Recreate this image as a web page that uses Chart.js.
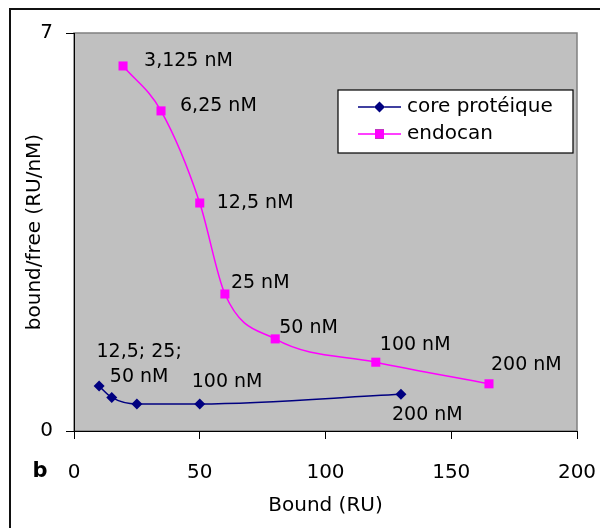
<!DOCTYPE html>
<html><head><meta charset="utf-8">
<script src="https://cdn.jsdelivr.net/npm/chart.js@4"></script>
<style>html,body{margin:0;padding:0;background:#fff;}canvas{display:block;}</style>
</head><body>
<canvas id="c" width="600" height="528"></canvas>
<script>
// ---- data ----
const coreX = [10, 15, 25, 50, 130];
const coreY = [0.79, 0.59, 0.475, 0.475, 0.645];
const coreLabels = ['12,5; 25;\n50 nM', '', '', '100 nM', '200 nM'];
const endoX = [19.5, 34.6, 50, 60, 80, 120, 165];
const endoY = [6.42, 5.63, 4.01, 2.41, 1.62, 1.21, 0.83];
const endoLabels = ['3,125 nM', '6,25 nM', '12,5 nM', '25 nM', '50 nM', '100 nM', '200 nM'];
const seriesNames = ['core protéique', 'endocan'];
const xTicks = [0, 50, 100, 150, 200];
const yTicks = [0, 7];
const xTitle = 'Bound (RU)';
const yTitle = 'bound/free (RU/nM)';
const panelLetter = 'b';

// ---- label placement (styling only) ----
const coreLabelStyle = [
  {dx: 40, dy: [-34, -9], align: 'center'}, null, null,
  {dx: -8, dy: [-22], align: 'left'},
  {dx: -9, dy: [21], align: 'left'}
];
const endoLabelStyle = [
  {dx: 21, dy: [-5]}, {dx: 19, dy: [-5]}, {dx: 17, dy: [0]}, {dx: 6, dy: [-11]},
  {dx: 4, dy: [-11]}, {dx: 4, dy: [-17]}, {dx: 2, dy: [-19]}
];

const FONT = 'DejaVu Sans';
Chart.defaults.font.family = FONT;
Chart.defaults.color = '#000';

const CORE_COLOR = '#000080';
const ENDO_COLOR = '#ff00ff';

const deco = {
  id: 'deco',
  beforeDraw(chart) {
    const {ctx, chartArea: a} = chart;
    ctx.save();
    ctx.fillStyle = '#fff';
    ctx.fillRect(0, 0, chart.width, chart.height);
    // outer frame (top & left)
    ctx.strokeStyle = '#111';
    ctx.lineWidth = 2;
    ctx.beginPath();
    ctx.moveTo(600, 9); ctx.lineTo(10, 9); ctx.lineTo(10, 528);
    ctx.stroke();
    // plot area
    ctx.fillStyle = '#c0c0c0';
    ctx.fillRect(a.left, a.top, a.right - a.left, a.bottom - a.top);
    ctx.strokeStyle = '#808080';
    ctx.lineWidth = 1.5;
    ctx.strokeRect(a.left, a.top, a.right - a.left, a.bottom - a.top);
    ctx.restore();
  },
  afterDraw(chart) {
    const {ctx} = chart;
    ctx.save();
    // data labels
    ctx.font = '19px "' + FONT + '"';
    ctx.fillStyle = '#000';
    ctx.textBaseline = 'middle';
    const drawLabels = (dsIndex, labels, styles) => {
      const meta = chart.getDatasetMeta(dsIndex);
      labels.forEach((t, i) => {
        if (!t || !styles[i]) return;
        const p = meta.data[i];
        const st = styles[i];
        ctx.textAlign = st.align || 'left';
        t.split('\n').forEach((line, k) => {
          ctx.fillText(line, p.x + st.dx, p.y + st.dy[k]);
        });
      });
    };
    drawLabels(0, coreLabels, coreLabelStyle);
    drawLabels(1, endoLabels, endoLabelStyle);

    // legend
    const lx = 338, ly = 90, lw = 235, lh = 63;
    ctx.fillStyle = '#fff';
    ctx.fillRect(lx, ly, lw, lh);
    ctx.strokeStyle = '#000';
    ctx.lineWidth = 1.2;
    ctx.strokeRect(lx, ly, lw, lh);
    const ds = chart.data.datasets;
    const rows = [107, 134];
    ds.forEach((d, i) => {
      const y = rows[i];
      ctx.strokeStyle = d.borderColor;
      ctx.lineWidth = 1.5;
      ctx.beginPath(); ctx.moveTo(358, y); ctx.lineTo(401, y); ctx.stroke();
      Chart.helpers.drawPoint(ctx, {pointStyle: d.pointStyle, radius: d.pointRadius, borderWidth: 0}, 379.5, y);
      ctx.fillStyle = d.pointBackgroundColor;
      ctx.fill();
      ctx.fillStyle = '#000';
      ctx.font = '20px "' + FONT + '"';
      ctx.textAlign = 'left';
      ctx.textBaseline = 'middle';
      ctx.fillText(d.label, 407, y);
    });

    // panel letter
    ctx.font = 'bold 21px "' + FONT + '"';
    ctx.textAlign = 'center';
    ctx.textBaseline = 'middle';
    ctx.fillStyle = '#000';
    ctx.fillText(panelLetter, 40, 472);
    ctx.restore();
  }
};

new Chart(document.getElementById('c'), {
  type: 'scatter',
  data: {
    datasets: [
      {
        label: seriesNames[0],
        data: coreX.map((x, i) => ({x, y: coreY[i]})),
        showLine: true,
        borderColor: CORE_COLOR,
        backgroundColor: CORE_COLOR,
        pointBackgroundColor: CORE_COLOR,
        pointBorderColor: CORE_COLOR,
        pointStyle: 'rectRot',
        pointRadius: 5.5,
        pointBorderWidth: 0,
        borderWidth: 1.5,
        cubicInterpolationMode: 'monotone'
      },
      {
        label: seriesNames[1],
        data: endoX.map((x, i) => ({x, y: endoY[i]})),
        showLine: true,
        borderColor: ENDO_COLOR,
        backgroundColor: ENDO_COLOR,
        pointBackgroundColor: ENDO_COLOR,
        pointBorderColor: ENDO_COLOR,
        pointStyle: 'rect',
        pointRadius: 6.4,
        pointBorderWidth: 0,
        borderWidth: 1.5,
        cubicInterpolationMode: 'monotone'
      }
    ]
  },
  options: {
    responsive: false,
    animation: false,
    devicePixelRatio: 1,
    layout: {padding: {left: 0, top: 33, right: 23, bottom: 0}},
    plugins: {legend: {display: false}, tooltip: {enabled: false}},
    scales: {
      x: {
        type: 'linear', min: 0, max: 200,
        afterBuildTicks: s => { s.ticks = xTicks.map(v => ({value: v})); },
        afterFit: s => { s.height = 97; s.paddingLeft = 0; s.paddingRight = 0; },
        grid: {drawOnChartArea: false, drawTicks: true, tickLength: 8, color: '#000'},
        border: {display: true, color: '#000', width: 1},
        ticks: {font: {size: 20}, padding: 22, color: '#000', maxRotation: 0},
        title: {display: true, text: xTitle, font: {size: 20}, padding: {top: 10, bottom: 10}, color: '#000'}
      },
      y: {
        type: 'linear', min: 0, max: 7,
        afterBuildTicks: s => { s.ticks = yTicks.map(v => ({value: v})); },
        afterFit: s => { s.width = 74; s.paddingTop = 0; s.paddingBottom = 0; },
        grid: {drawOnChartArea: false, drawTicks: true, tickLength: 8, color: '#000'},
        border: {display: true, color: '#000', width: 1},
        ticks: {font: {size: 20}, padding: 13, color: '#000'},
        title: {display: true, text: yTitle, font: {size: 20}, padding: {top: 23, bottom: 0}, color: '#000'}
      }
    }
  },
  plugins: [deco]
});
</script>
</body></html>
